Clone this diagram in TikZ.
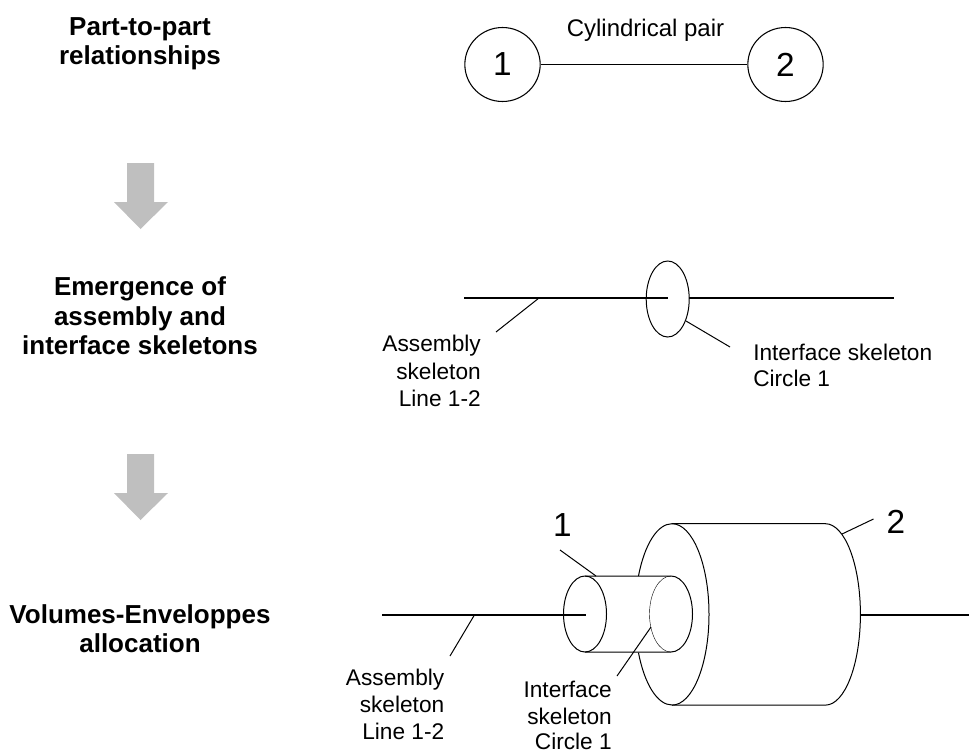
\documentclass[tikz,border=0pt]{standalone}
\usepackage{fontspec}
\usetikzlibrary{shapes.geometric}
\setmainfont{Liberation Sans}
\tikzset{
  x=0.75pt,y=-0.75pt,
  lbl/.style={inner sep=0pt,text height=12.2pt,text depth=3.6pt,font=\fontsize{17}{20}\selectfont},
  digit/.style={inner sep=0pt,font=\fontsize{25}{28}\selectfont},
  head/.style={inner sep=0pt,font=\fontsize{19.5}{22}\bfseries\selectfont,align=center},
  axisline/.style={line width=1.3pt,black},
  thin line/.style={line width=0.75pt,black},
  part/.style={draw,ellipse,line width=0.8pt,minimum width=56.5pt,minimum height=55.5pt,inner sep=0pt,font=\fontsize{25}{28}\selectfont},
  flow/.style={fill=black!25,draw=none},
}
\begin{document}
\begin{tikzpicture}
\useasboundingbox (0,0) rectangle (969,753);
% row headings
\node[head] (h1) at (140,43.5) {Part-to-part\\relationships};
\node[head] (h2) at (140,316) {Emergence of\\assembly and\\interface skeletons};
\node[head] (h3) at (140,628.5) {Volumes-Enveloppes\\allocation};
% flow arrows
\fill[flow] (127,163) -- (154,163) -- (154,202) -- (168,202) -- (140.5,229) -- (114,202) -- (127,202) -- cycle;
\fill[flow] (127,454) -- (154,454) -- (154,493) -- (168,493) -- (140.5,520) -- (114,493) -- (127,493) -- cycle;
% top row
\node[part] (c1) at (502.5,64.5) {\raisebox{-1.5pt}{1}};
\node[part] (c2) at (785.5,64.5) {\raisebox{-1.5pt}{2}};
\draw[thin line] (c1) -- (c2);
\node[lbl,font=\fontsize{18}{20}\selectfont] (cyl) at (645.5,30.3) {Cylindrical pair};
% middle row
\coordinate (ma) at (464,297.7);
\coordinate (mb) at (668,297.7);
\coordinate (mc) at (689,297.7);
\coordinate (md) at (894,297.7);
\draw[axisline] (ma) -- (mb) (mc) -- (md);
\draw[thin line] (667.7,299) ellipse [x radius=21.5,y radius=38];
\coordinate (mt1) at (539,298);
\coordinate (mt1e) at (496,332);
\coordinate (mt2) at (686,321);
\coordinate (mt2e) at (730,347);
\draw[thin line] (mt1) -- (mt1e) (mt2) -- (mt2e);
\node[lbl,anchor=east] (ml1) at (481,345.3) {Assembly};
\node[lbl,anchor=east] (ml2) at (481,373.3) {skeleton};
\node[lbl,anchor=east] (ml3) at (481,400.3) {Line 1-2};
\node[lbl,anchor=west] (ml4) at (753,354.3) {Interface skeleton};
\node[lbl,anchor=west] (ml5) at (753,380.8) {Circle 1};
% bottom row
\coordinate (ba) at (382,615);
\coordinate (bb) at (585.5,615);
\coordinate (bc) at (860,615);
\coordinate (bd) at (969,615);
\draw[axisline] (ba) -- (bb) (bc) -- (bd);
% large cylinder
\draw[thin line] (672,523.7) -- (825.4,523.7) arc[start angle=-90,end angle=90,x radius=35,y radius=90.7] -- (672,705);
\draw[thin line] (672,523.7) arc[start angle=-90,end angle=90,x radius=37,y radius=90.7];
\draw[thin line] (672,523.7) arc[start angle=-90,delta angle=-65,x radius=37,y radius=90.7];
\draw[thin line] (672,705) arc[start angle=90,delta angle=65,x radius=37,y radius=90.7];
% small cylinder
\draw[thin line] (585,576) -- (671,576) arc[start angle=-90,end angle=90,x radius=21.5,y radius=38] -- (585,652);
\draw[line width=0.3pt,black] (671,576) arc[start angle=-90,end angle=-270,x radius=21.5,y radius=38];
\draw[thin line] (585,614) ellipse [x radius=21.5,y radius=38];
\coordinate (bt1) at (474.4,615);
\coordinate (bt1e) at (450,656);
\coordinate (bt2) at (596,576);
\coordinate (bt2e) at (560,550);
\coordinate (bt3) at (842,534);
\coordinate (bt3e) at (873.5,519);
\coordinate (bt4) at (651,627);
\coordinate (bt4e) at (617,676);
\draw[thin line] (bt1) -- (bt1e) (bt2) -- (bt2e) (bt3) -- (bt3e) (bt4) -- (bt4e);
\node[digit] (n1) at (562.5,525) {1};
\node[digit] (n2) at (896,522) {2};
\node[lbl,anchor=east] (bl1) at (444.5,679.3) {Assembly};
\node[lbl,anchor=east] (bl2) at (444.5,706.8) {skeleton};
\node[lbl,anchor=east] (bl3) at (444.5,733.3) {Line 1-2};
\node[lbl,anchor=east] (bl4) at (612,691.3) {Interface};
\node[lbl,anchor=east] (bl5) at (612,718.3) {skeleton};
\node[lbl,anchor=east] (bl6) at (612,743.3) {Circle 1};
\end{tikzpicture}
\end{document}
